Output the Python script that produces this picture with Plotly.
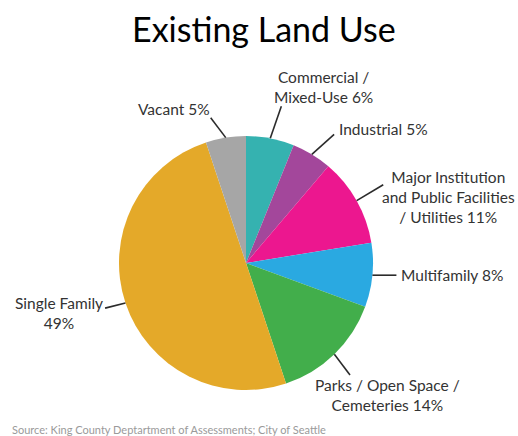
import math
import plotly.graph_objects as go

# Land use shares (percent), in clockwise order starting at 12 o'clock
categories = [
    "Commercial / Mixed-Use",
    "Industrial",
    "Major Institution and Public Facilities / Utilities",
    "Multifamily",
    "Parks / Open Space / Cemeteries",
    "Single Family",
    "Vacant",
]
shares = [6, 5, 11, 8, 14, 49, 5]
label_names = [
    "Commercial /<br>Mixed-Use ",
    "Industrial ",
    "Major Institution<br>and Public Facilities<br>/ Utilities ",
    "Multifamily ",
    "Parks / Open Space /<br>Cemeteries ",
    "Single Family<br>",
    "Vacant ",
]
colors = ["#35b2b0", "#a3479b", "#ec178f", "#2aa9e1", "#42ae4b", "#e4a929", "#a6a6a6"]

# Canvas and pie geometry (pixels)
W, H = 518, 436
CX, CY, R = 246, 263, 127

# Leader line per slice: (direction in degrees clockwise from up, length px)
leaders = [(19, 34), (48, 30), (59, 31), (90, 24), (143, 26), (256, 21), (323, 25)]
# Label placement relative to leader end: (dx, dy, xanchor)
label_pos = [
    (42, -19, "center"),
    (3, -5, "left"),
    (65, 12, "center"),
    (3, 0, "left"),
    (38, 20, "center"),
    (-46, 5, "center"),
    (1, -9, "right"),
]

def px(x):
    return x / W

def py(y):
    return 1 - y / H

fig = go.Figure(
    go.Pie(
        labels=categories,
        values=shares,
        sort=False,
        direction="clockwise",
        rotation=0,
        marker=dict(colors=colors, line=dict(width=0)),
        textinfo="none",
        hoverinfo="label+value",
        showlegend=False,
        domain=dict(x=[px(CX - R), px(CX + R)], y=[py(CY + R), py(CY - R)]),
    )
)

total = sum(shares)
cum = 0
shapes = []
annotations = []
for i, v in enumerate(shares):
    mid = (cum + v / 2) / total * 2 * math.pi
    cum += v
    sx = CX + R * math.sin(mid)
    sy = CY - R * math.cos(mid)
    ang, length = leaders[i]
    a = math.radians(ang)
    ex = sx + length * math.sin(a)
    ey = sy - length * math.cos(a)
    shapes.append(dict(
        type="line", xref="paper", yref="paper",
        x0=px(sx), y0=py(sy), x1=px(ex), y1=py(ey),
        line=dict(color="#2b2b2b", width=1.6),
    ))
    dx, dy, anchor = label_pos[i]
    annotations.append(dict(
        text=f"{label_names[i]}{v}%",
        xref="paper", yref="paper",
        x=px(ex + dx), y=py(ey + dy),
        xanchor=anchor, yanchor="middle", align="center",
        showarrow=False,
        font=dict(family="Lato, Open Sans, sans-serif", size=15.5, color="#333333"),
    ))

annotations.append(dict(
    text="Existing Land Use",
    xref="paper", yref="paper", x=px(264), y=py(29),
    xanchor="center", yanchor="middle", showarrow=False,
    font=dict(family="Lato, Open Sans, sans-serif", size=34, color="#000000"),
))
annotations.append(dict(
    text="Source: King County Deptartment of Assessments; City of Seattle",
    xref="paper", yref="paper", x=px(10), y=py(429),
    xanchor="left", yanchor="middle", showarrow=False,
    font=dict(family="Lato, Open Sans, sans-serif", size=11, color="#9a9a9a"),
))

fig.update_layout(
    width=W, height=H,
    margin=dict(l=0, r=0, t=0, b=0),
    paper_bgcolor="white", plot_bgcolor="white",
    shapes=shapes, annotations=annotations,
)

fig.write_html("out.html")
